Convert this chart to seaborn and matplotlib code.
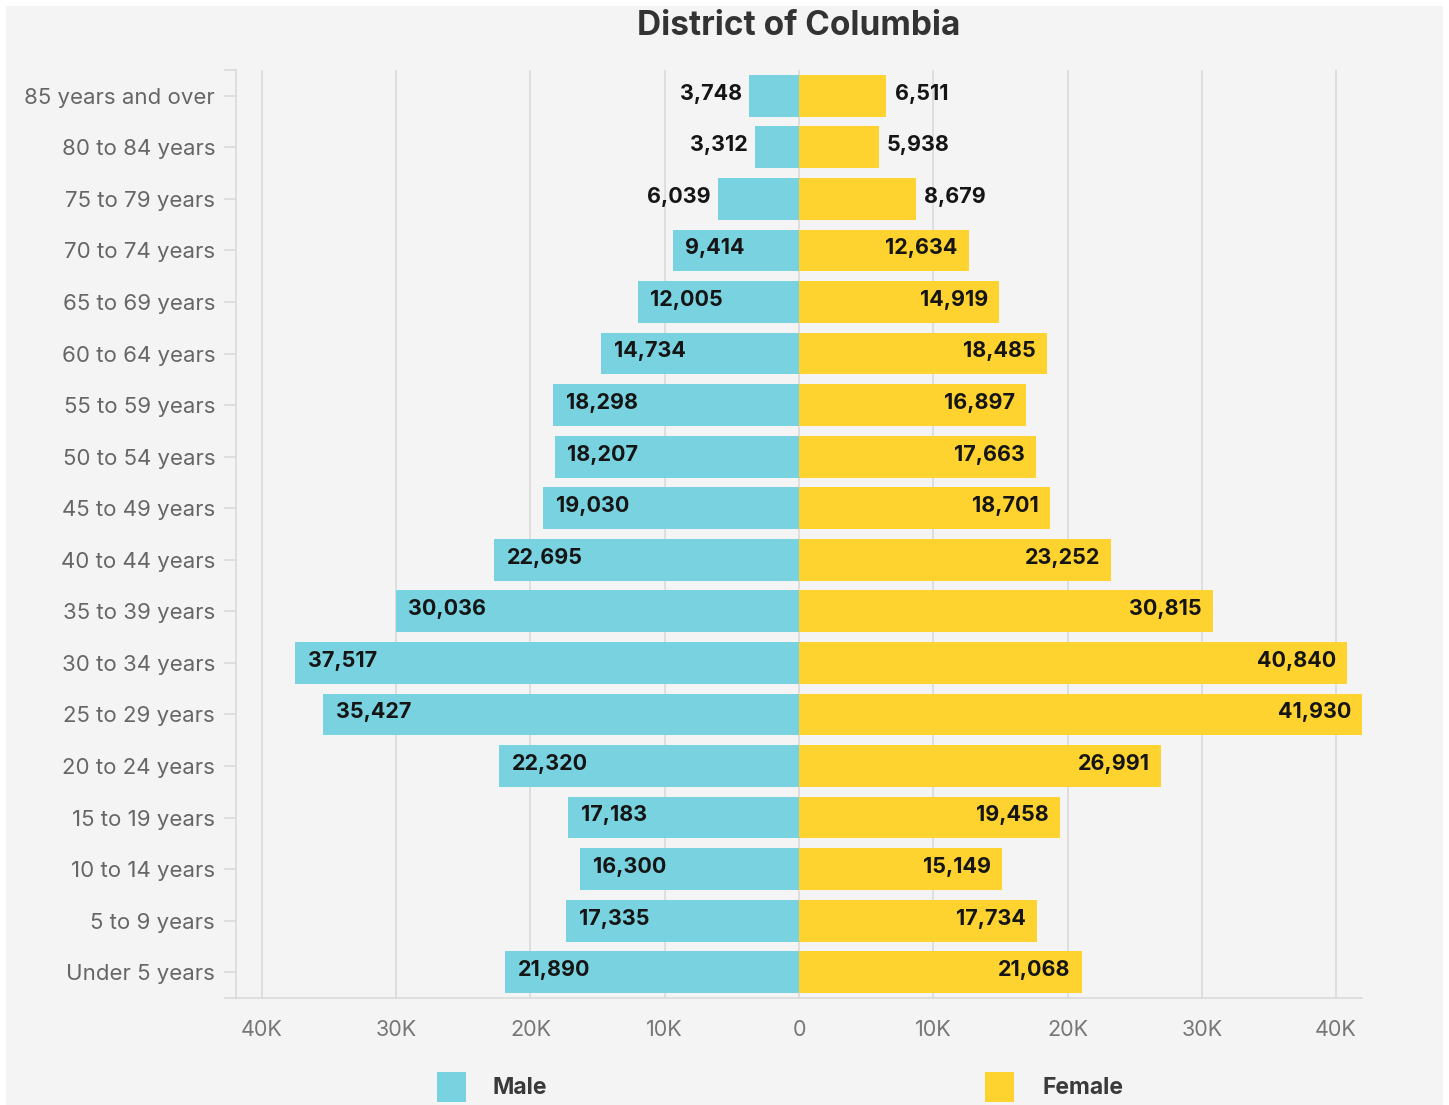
import matplotlib
matplotlib.use("Agg")
import matplotlib.pyplot as plt
from matplotlib.patches import Rectangle
from matplotlib.ticker import FixedLocator, FuncFormatter
import seaborn as sns
import pandas as pd

age_groups = [
    "85 years and over", "80 to 84 years", "75 to 79 years", "70 to 74 years",
    "65 to 69 years", "60 to 64 years", "55 to 59 years", "50 to 54 years",
    "45 to 49 years", "40 to 44 years", "35 to 39 years", "30 to 34 years",
    "25 to 29 years", "20 to 24 years", "15 to 19 years", "10 to 14 years",
    "5 to 9 years", "Under 5 years",
]
male = [3748, 3312, 6039, 9414, 12005, 14734, 18298, 18207, 19030,
        22695, 30036, 37517, 35427, 22320, 17183, 16300, 17335, 21890]
female = [6511, 5938, 8679, 12634, 14919, 18485, 16897, 17663, 18701,
          23252, 30815, 40840, 41930, 26991, 19458, 15149, 17734, 21068]
x_ticks = [-40000, -30000, -20000, -10000, 0, 10000, 20000, 30000, 40000]

MALE_COLOR = "#79d2e0"
FEMALE_COLOR = "#fed32f"
BG = "#f4f4f4"

sns.set_theme(style="white")
plt.rcParams["font.family"] = ["Inter", "DejaVu Sans"]

df = pd.DataFrame({
    "age": age_groups * 2,
    "value": [-v for v in male] + female,
    "sex": ["Male"] * len(male) + ["Female"] * len(female),
})

fig = plt.figure(figsize=(14.49, 11.05), dpi=100, facecolor="white")
fig.patches.append(Rectangle((6 / 1449, 0), 1 - 12 / 1449, 1 - 6 / 1105,
                             transform=fig.transFigure, facecolor=BG,
                             edgecolor="none", zorder=-10))
ax = fig.add_axes([236 / 1449, 1 - 998 / 1105, (1362 - 236) / 1449, (998 - 70) / 1105])
ax.set_facecolor("none")

sns.barplot(data=df, x="value", y="age", hue="sex", order=age_groups,
            palette={"Male": MALE_COLOR, "Female": FEMALE_COLOR},
            dodge=False, width=0.81, orient="h", saturation=1,
            linewidth=0, legend=False, ax=ax)

extent = max(max(male), max(female))
ax.set_xlim(-extent, extent)
ax.set_ylim(len(age_groups) - 0.5, -0.5)
ax.set_axisbelow(True)

ax.xaxis.set_major_locator(FixedLocator(x_ticks))
ax.xaxis.set_major_formatter(FuncFormatter(
    lambda v, _: "0" if v == 0 else f"{abs(int(v)) // 1000}K"))
ax.xaxis.set_minor_locator(FixedLocator([-extent, extent]))
ax.yaxis.set_minor_locator(FixedLocator([-0.5, len(age_groups) - 0.5]))

grid_c = "#d8d8d8"
ax.grid(axis="x", color=grid_c, linewidth=1.1)
ax.grid(axis="y", visible=False)
ax.tick_params(axis="x", which="both", length=10, width=1.1, color=grid_c,
               labelsize=15.5, labelcolor="#777777", pad=6)
ax.tick_params(axis="y", which="both", length=9, width=1.1, color=grid_c,
               labelsize=16, labelcolor="#666666", pad=6, left=True)
for s in ("top", "right"):
    ax.spines[s].set_visible(False)
for s in ("left", "bottom"):
    ax.spines[s].set_color(grid_c)
    ax.spines[s].set_linewidth(1.1)
ax.set_xlabel("")
ax.set_ylabel("")

label_kw = dict(textcoords="offset points", va="center", fontsize=15.5,
                fontweight="bold", color="#151515")
for i, (m, f) in enumerate(zip(male, female)):
    if m > 9000:
        ax.annotate(f"{m:,}", (-m, i), xytext=(9, 1.5), ha="left", **label_kw)
    else:
        ax.annotate(f"{m:,}", (-m, i), xytext=(-5, 1.5), ha="right", **label_kw)
    if f > 9000:
        ax.annotate(f"{f:,}", (f, i), xytext=(-8, 1.5), ha="right", **label_kw)
    else:
        ax.annotate(f"{f:,}", (f, i), xytext=(6, 1.5), ha="left", **label_kw)

fig.text(799 / 1449, 1 - 26 / 1105, "District of Columbia", ha="center",
         va="center", fontsize=24, fontweight="bold", color="#333333")

# legend
for x0, gap, label, color in ((437, 55, "Male", MALE_COLOR),
                              (985, 58, "Female", FEMALE_COLOR)):
    fig.patches.append(Rectangle((x0 / 1449, 1 - 1102 / 1105), 29 / 1449, 30 / 1105,
                                 transform=fig.transFigure, facecolor=color,
                                 edgecolor="none"))
    fig.text((x0 + gap) / 1449, 1 - 1088 / 1105, label, ha="left", va="center",
             fontsize=16.5, fontweight="bold", color="#3a3a3a")

fig.savefig("out.png", dpi=100, facecolor=fig.get_facecolor())
